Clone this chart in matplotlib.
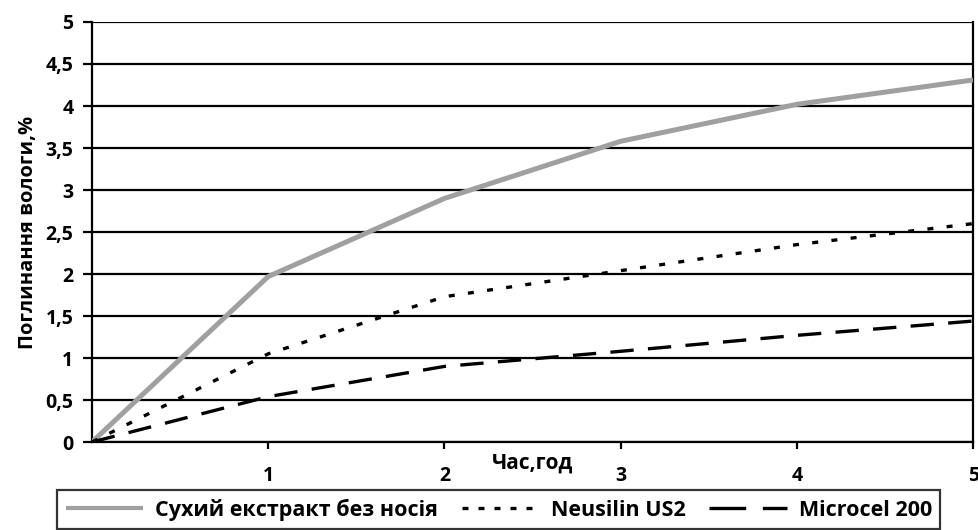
import matplotlib.pyplot as plt
from matplotlib.lines import Line2D
import numpy as np

# Data
hours = [0, 1, 2, 3, 4, 5]
dry_extract = [0, 1.97, 2.9, 3.58, 4.02, 4.31]
neusilin = [0, 1.05, 1.73, 2.04, 2.35, 2.6]
microcel = [0, 0.54, 0.9, 1.08, 1.27, 1.44]

labels = ["Сухий екстракт без носія", "Neusilin US2", "Microcel 200"]
yticks = [0, 0.5, 1, 1.5, 2, 2.5, 3, 3.5, 4, 4.5, 5]
ytick_labels = ["0", "0,5", "1", "1,5", "2", "2,5", "3", "3,5", "4", "4,5", "5"]

plt.rcParams['font.family'] = ['Open Sans', 'DejaVu Sans']
plt.rcParams['font.weight'] = 'bold'

fig = plt.figure(figsize=(9.79, 5.30), dpi=100)
ax = fig.add_axes([0.094, 0.166, 0.900, 0.7925])

# Horizontal gridlines
for y in yticks:
    ax.axhline(y, color='black', lw=1.6, zorder=1)

ax.plot(hours, dry_extract, color='#a0a0a0', lw=3.6, solid_capstyle='butt', zorder=3)
ax.plot(hours, neusilin, color='black', lw=2.4, dashes=(1.8, 4.0), zorder=3)
ax.plot(hours, microcel, color='black', lw=2.4, dashes=(7.0, 4.3), zorder=3)

ax.set_xlim(0, 5)
ax.set_ylim(0, 5)
ax.set_xticks([1, 2, 3, 4, 5])
ax.set_xticklabels(["1", "2", "3", "4", "5"])
ax.set_yticks(yticks)
ax.set_yticklabels(ytick_labels)

ax.spines['top'].set_visible(False)
for side in ['left', 'right', 'bottom']:
    ax.spines[side].set_linewidth(1.6)

ax.tick_params(axis='x', direction='out', length=5, width=1.6, pad=12, labelsize=14)
ax.tick_params(axis='y', direction='out', length=6.5, width=1.6, pad=7, labelsize=14)
for lab in ax.get_xticklabels() + ax.get_yticklabels():
    lab.set_fontweight('bold')

ax.set_ylabel("Поглинання вологи,%", fontsize=14.5, fontweight='bold', labelpad=5)
fig.text(533 / 979, 1 - 463 / 530, "Час,год", fontsize=15, fontweight='bold',
         ha='center', va='center')

# Legend handles styled like the original (short dots, two long dashes)
handles = [
    Line2D([], [], color='#a0a0a0', lw=3.0, solid_capstyle='butt'),
    Line2D([], [], color='black', lw=2.4, dashes=(1.8, 3.0)),
    Line2D([], [], color='black', lw=2.4, dashes=(11, 5)),
]
leg = ax.legend(handles, labels, loc='upper left',
                bbox_to_anchor=(57 / 979, 1 - 490 / 530),
                bbox_transform=fig.transFigure, ncol=3, frameon=True,
                fancybox=False, edgecolor='black',
                prop={'size': 15.5, 'weight': 'bold'},
                handlelength=3.6, columnspacing=1.1, borderpad=0.4,
                handletextpad=0.55, borderaxespad=0)
leg.get_frame().set_linewidth(1.6)

fig.savefig("out.png", dpi=100)
